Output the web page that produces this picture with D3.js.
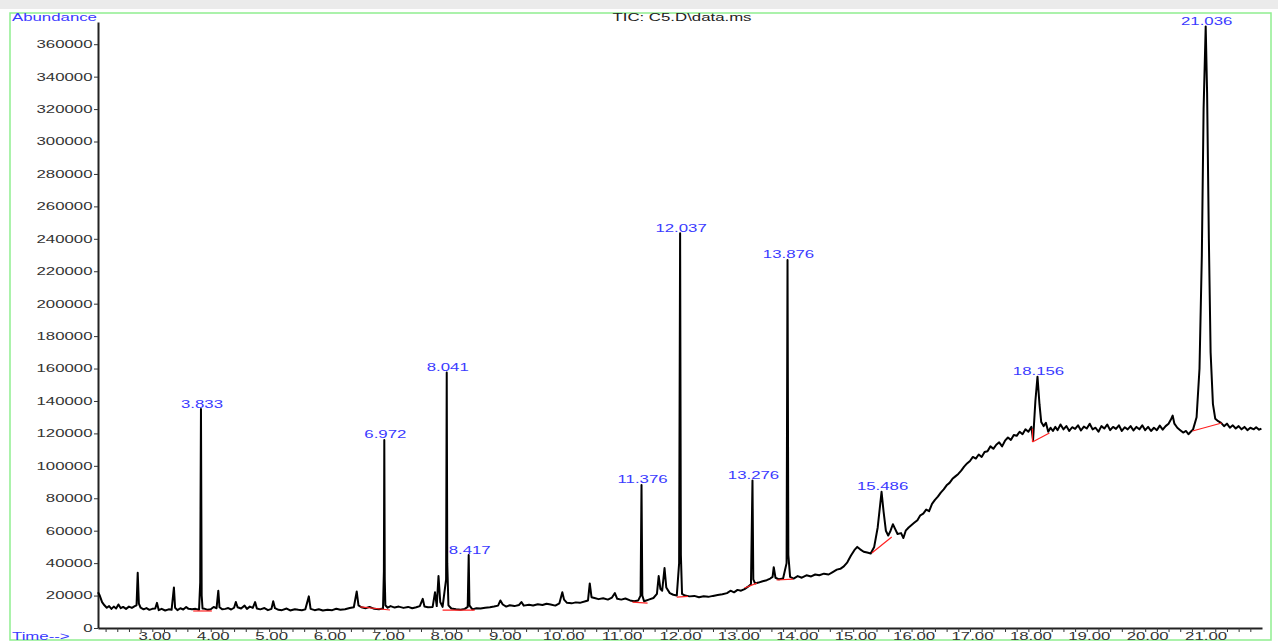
<!DOCTYPE html>
<html>
<head>
<meta charset="utf-8">
<script src="https://cdn.jsdelivr.net/npm/d3@7"></script>
<style>
  body { margin: 0; background: #fff; }
  svg text { font-family: "Liberation Sans", Arial, sans-serif; }
</style>
</head>
<body>
<svg id="canvas" width="1278" height="642"></svg>
<script>
// retention time (min) and abundance of the TIC trace
const times = [
  2.07, 2.10, 2.14, 2.18, 2.22, 2.26, 2.30, 2.34, 2.38, 2.42, 2.46, 2.50, 2.55, 2.60, 2.65, 2.70, 2.73, 2.75, 2.77, 2.80,
  2.85, 2.90, 2.95, 3.00, 3.05, 3.08, 3.11, 3.16, 3.22, 3.28, 3.33, 3.37, 3.39, 3.43, 3.48, 3.53, 3.58, 3.62, 3.68, 3.74,
  3.80, 3.82, 3.833, 3.845, 3.86, 3.90, 3.95, 4.00, 4.05, 4.10, 4.13, 4.15, 4.20, 4.25, 4.30, 4.35, 4.40, 4.43, 4.46, 4.52,
  4.58, 4.62, 4.67, 4.72, 4.76, 4.79, 4.85, 4.92, 4.98, 5.04, 5.07, 5.10, 5.16, 5.22, 5.30, 5.36, 5.44, 5.50, 5.56, 5.62,
  5.68, 5.71, 5.78, 5.85, 5.92, 6.00, 6.08, 6.15, 6.22, 6.30, 6.38, 6.45, 6.50, 6.53, 6.58, 6.65, 6.72, 6.80, 6.88, 6.95,
  6.965, 6.972, 6.98, 6.99, 7.03, 7.08, 7.15, 7.22, 7.30, 7.38, 7.45, 7.52, 7.58, 7.63, 7.66, 7.72, 7.80, 7.84, 7.87, 7.90,
  7.93, 7.97, 8.03, 8.041, 8.05, 8.07, 8.12, 8.20, 8.28, 8.35, 8.40, 8.417, 8.43, 8.48, 8.55, 8.62, 8.70, 8.78, 8.85, 8.92,
  8.96, 9.00, 9.06, 9.12, 9.20, 9.28, 9.32, 9.36, 9.45, 9.52, 9.60, 9.68, 9.75, 9.82, 9.90, 9.97, 10.02, 10.05, 10.10, 10.18,
  10.25, 10.32, 10.40, 10.46, 10.49, 10.52, 10.57, 10.64, 10.72, 10.80, 10.87, 10.92, 10.96, 11.03, 11.10, 11.18, 11.25, 11.32, 11.36, 11.376,
  11.39, 11.42, 11.50, 11.58, 11.64, 11.67, 11.70, 11.73, 11.77, 11.80, 11.86, 11.92, 11.98, 12.02, 12.037, 12.05, 12.07, 12.12, 12.20, 12.28,
  12.36, 12.44, 12.52, 12.60, 12.68, 12.76, 12.84, 12.90, 12.96, 13.02, 13.08, 13.14, 13.20, 13.25, 13.276, 13.29, 13.32, 13.38, 13.45, 13.52,
  13.58, 13.62, 13.64, 13.67, 13.73, 13.80, 13.86, 13.876, 13.89, 13.92, 13.98, 14.05, 14.12, 14.20, 14.28, 14.35, 14.42, 14.50, 14.58, 14.65,
  14.72, 14.78, 14.84, 14.90, 14.96, 15.02, 15.07, 15.12, 15.18, 15.24, 15.30, 15.36, 15.42, 15.486, 15.52, 15.56, 15.60, 15.64, 15.68, 15.72,
  15.76, 15.82, 15.86, 15.90, 15.95, 16.00, 16.05, 16.10, 16.15, 16.20, 16.25, 16.30, 16.35, 16.40, 16.45, 16.50, 16.55, 16.60, 16.65, 16.70,
  16.75, 16.80, 16.85, 16.90, 16.95, 17.00, 17.05, 17.10, 17.15, 17.20, 17.25, 17.30, 17.35, 17.40, 17.45, 17.50, 17.55, 17.60, 17.65, 17.70,
  17.75, 17.80, 17.85, 17.90, 17.95, 18.00, 18.05, 18.08, 18.12, 18.156, 18.19, 18.22, 18.26, 18.30, 18.34, 18.38, 18.42, 18.46, 18.50, 18.55,
  18.60, 18.65, 18.70, 18.75, 18.80, 18.85, 18.90, 18.95, 19.00, 19.05, 19.10, 19.15, 19.20, 19.25, 19.30, 19.35, 19.40, 19.45, 19.50, 19.55,
  19.60, 19.65, 19.70, 19.75, 19.80, 19.85, 19.90, 19.95, 20.00, 20.05, 20.10, 20.15, 20.20, 20.25, 20.30, 20.35, 20.40, 20.44, 20.47, 20.50,
  20.55, 20.60, 20.65, 20.70, 20.74, 20.78, 20.82, 20.88, 20.93, 20.97, 21.00, 21.036, 21.06, 21.09, 21.12, 21.16, 21.20, 21.25, 21.30, 21.35,
  21.40, 21.45, 21.50, 21.55, 21.60, 21.65, 21.70, 21.75, 21.80, 21.86, 21.90, 21.95, 21.99
];
const abundance = [
  22000, 20000, 16000, 14000, 12500, 13500, 11800, 13200, 12000, 14500, 12200, 13000, 11800, 13200, 12400, 13500, 14000, 34000, 15000, 12500,
  11500, 12300, 11200, 11800, 12000, 15500, 11000, 11800, 10800, 11500, 11200, 25000, 12500, 11000, 12200, 11400, 13000, 11800, 11500, 11800,
  11200, 28000, 135000, 20000, 12000, 11800, 11200, 11600, 13000, 12200, 23000, 12800, 11500, 11800, 12300, 11400, 12500, 16000, 12800, 12000,
  13800, 11800, 13200, 12400, 16000, 12000, 11500, 12300, 11000, 11800, 16500, 12200, 11200, 11000, 12000, 10800, 11600, 11200, 10900, 11500,
  19500, 11800, 11000, 11600, 10800, 11300, 11000, 11900, 11200, 11600, 12300, 12800, 22500, 14000, 12800, 12200, 13000, 11800, 11500, 12000,
  35000, 116000, 30000, 14000, 12500, 13500, 12600, 13200, 12400, 13000, 12200, 12800, 13500, 18000, 13200, 12800, 13000, 22000, 13500, 32000,
  16000, 13000, 30000, 157500, 40000, 14000, 12000, 11500, 11200, 11800, 13000, 45000, 14000, 11500, 12200, 12000, 12500, 12800, 13200, 13800,
  17000, 14500, 13200, 14000, 13500, 14200, 16000, 13800, 14300, 13900, 14600, 14200, 15000, 14500, 13800, 15200, 22000, 17500, 15500, 15200,
  15800, 15500, 16300, 17000, 27500, 19000, 18500, 17800, 18300, 17500, 18800, 21500, 18000, 17500, 18200, 17000, 16500, 17000, 20000, 88200,
  20000, 16500, 17500, 18500, 21000, 32000, 24000, 23000, 37000, 25000, 21500, 20500, 20000, 40000, 243500, 45000, 21000, 20000, 19500, 19800,
  19000, 19600, 19200, 19800, 20300, 20800, 21500, 23000, 22000, 23500, 23000, 24000, 25500, 27000, 91000, 30000, 27500, 28000, 28800, 29500,
  30500, 31500, 37500, 31000, 30000, 30500, 40000, 227000, 45000, 31500, 30500, 32000, 31000, 32500, 31800, 33000, 32500, 33500, 33000, 34500,
  36000, 36500, 38000, 40500, 44500, 48000, 50000, 48500, 47000, 46500, 46000, 50000, 62000, 84000, 72000, 60000, 57000, 60000, 64000, 61000,
  58000, 58500, 55500, 60000, 62000, 63500, 65000, 66500, 69500, 70500, 73000, 72000, 76500, 79000, 81000, 83500, 85500, 88000, 89500, 92000,
  93500, 95000, 97000, 99500, 101500, 103000, 105500, 104500, 107000, 105500, 108500, 109000, 112000, 110500, 113000, 114500, 112000, 115500, 117500, 116000,
  119000, 118500, 121000, 119500, 122500, 121000, 124000, 116000, 140000, 155000, 138000, 127000, 124500, 126500, 121000, 123500, 121500, 124000, 122000, 125500,
  122500, 124500, 121500, 123800, 122800, 125000, 121800, 124200, 123000, 126000, 122500, 123500, 121000, 124500, 123000, 125500, 122000, 124000, 122800, 125000,
  121500, 123800, 122500, 124500, 121800, 124000, 122500, 125000, 122000, 124000, 121500, 123500, 122000, 124800, 122300, 124500, 126000, 128500, 131000, 126000,
  123500, 122000, 120500, 121500, 119500, 121000, 122500, 130000, 160000, 230000, 320000, 371000, 330000, 240000, 170000, 138000, 129000, 127500, 126500, 124500,
  126000, 123500, 125000, 123000, 124500, 122500, 124000, 122000, 123500, 122500, 123800, 122300, 123000
];

// labelled peaks
const peakTimes = [3.833, 6.972, 8.041, 8.417, 11.376, 12.037, 13.276, 13.876, 15.486, 18.156, 21.036];
const peakLabels = ["3.833", "6.972", "8.041", "8.417", "11.376", "12.037", "13.276", "13.876", "15.486", "18.156", "21.036"];

// integration baselines: start time, start abundance, end time, end abundance
const baseT0 = [3.70, 6.56, 7.97, 11.22, 11.98, 13.14, 13.69, 15.32, 18.07, 18.07, 20.81];
const baseA0 = [10500, 13000, 11000, 16000, 19100, 24700, 29600, 46250, 123000, 114700, 121500];
const baseT1 = [4.02, 7.07, 8.52, 11.48, 12.17, 13.35, 13.97, 15.66, 18.07, 18.36, 21.31];
const baseA1 = [10500, 11100, 11000, 15400, 19500, 27700, 30200, 56100, 114700, 120250, 126400];

const yTicks = d3.range(0, 360001, 20000);
const xTickLabels = [3, 4, 5, 6, 7, 8, 9, 10, 11, 12, 13, 14, 15, 16, 17, 18, 19, 20, 21];

const blue = "#3a3aff";
const stretch = 1.6;

let canvas = d3.select("#canvas");

// window chrome
canvas.append("rect").attr("x", 0).attr("y", 0).attr("width", 1278).attr("height", 9).attr("fill", "#ebebeb");
canvas.append("rect")
  .attr("x", 10).attr("y", 13).attr("width", 1261).attr("height", 627)
  .attr("fill", "none").attr("stroke", "#90ee90").attr("stroke-width", 1.5);

let x = d3.scaleLinear().domain([2.07, 22.0]).range([98, 1262]);
let y = d3.scaleLinear().domain([0, 373700]).range([628, 22]);

// y axis
let yAxis = canvas.append("g")
  .attr("transform", "translate(98,0)")
  .call(d3.axisLeft(y).tickValues(yTicks).tickFormat(d3.format("d")).tickSize(4).tickPadding(1).tickSizeOuter(0));
yAxis.select(".domain").attr("stroke", "#222").attr("stroke-width", 2);
yAxis.selectAll(".tick line").attr("stroke", "#333");
yAxis.selectAll("text")
  .attr("x", -5.5 / stretch)
  .attr("transform", "scale(" + stretch + ",1)")
  .attr("fill", "#333").style("font-size", "10.5px");

// x axis, minor ticks every 0.2 min
let minorTicks = d3.range(2.2, 21.95, 0.2).map(v => Math.round(v * 10) / 10);
let xAxis = canvas.append("g")
  .attr("transform", "translate(0,628)")
  .call(d3.axisBottom(x).tickValues(minorTicks).tickSize(4).tickPadding(1).tickSizeOuter(0)
    .tickFormat(v => xTickLabels.includes(v) ? d3.format(".2f")(v) : ""));
xAxis.select(".domain").attr("stroke", "#222").attr("stroke-width", 2);
xAxis.selectAll(".tick line").attr("stroke", "#333");
xAxis.selectAll("text")
  .attr("x", 2 / stretch)
  .attr("transform", "scale(" + stretch + ",1)")
  .attr("fill", "#333").style("font-size", "10.5px");

// trace
let points = times.map((t, i) => [t, abundance[i]]);
let line = d3.line().x(d => x(d[0])).y(d => y(d[1]));
canvas.append("path")
  .datum(points)
  .attr("d", line)
  .attr("fill", "none")
  .attr("stroke", "#000")
  .attr("stroke-width", 2)
  .attr("stroke-linejoin", "round");

// baselines
canvas.selectAll(".baseline")
  .data(baseT0)
  .enter()
  .append("line")
  .attr("class", "baseline")
  .attr("x1", (d, i) => x(baseT0[i]))
  .attr("y1", (d, i) => y(baseA0[i]))
  .attr("x2", (d, i) => x(baseT1[i]))
  .attr("y2", (d, i) => y(baseA1[i]))
  .attr("stroke", "#ff2020")
  .attr("stroke-width", 1.2);

// peak labels
canvas.selectAll(".peak")
  .data(peakTimes)
  .enter()
  .append("text")
  .attr("class", "peak")
  .attr("transform", (t, i) => {
    let top = abundance[times.indexOf(t)];
    return "translate(" + (x(t) + 1) + "," + (y(top) - 1.5) + ") scale(" + stretch + ",1)";
  })
  .attr("text-anchor", "middle")
  .attr("fill", blue)
  .style("font-size", "10.5px")
  .text((t, i) => peakLabels[i]);

// titles
canvas.append("text")
  .attr("transform", "translate(12,21) scale(" + stretch + ",1)")
  .attr("fill", blue).style("font-size", "10.5px")
  .text("Abundance");
canvas.append("text")
  .attr("transform", "translate(682,21) scale(" + stretch + ",1)")
  .attr("text-anchor", "middle")
  .attr("fill", "#222").style("font-size", "10.5px")
  .text("TIC: C5.D\\data.ms");
canvas.append("text")
  .attr("transform", "translate(12,640) scale(" + stretch + ",1)")
  .attr("fill", blue).style("font-size", "10.5px")
  .text("Time-->");
</script>
</body>
</html>
